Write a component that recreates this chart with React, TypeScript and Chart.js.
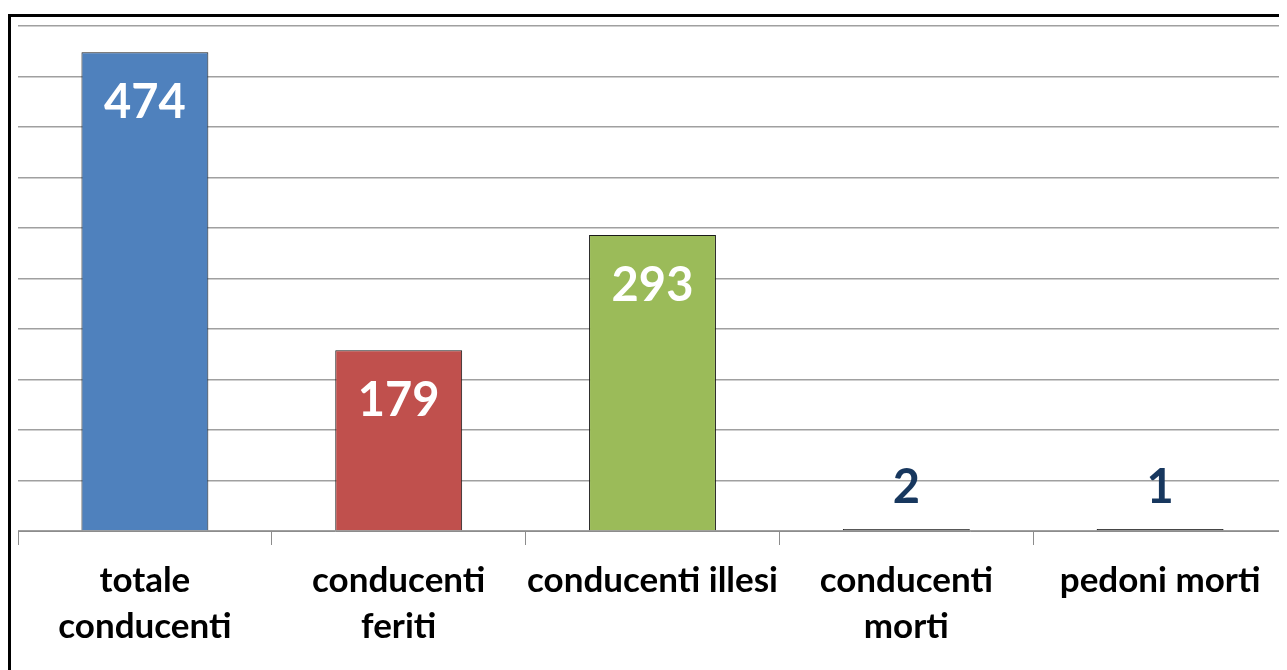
import React, { useEffect, useRef } from "react";
import { Chart, registerables } from "chart.js";

Chart.register(...registerables);

const categories: (string | string[])[] = [
  ["totale", "conducenti"],
  ["conducenti", "feriti"],
  "conducenti illesi",
  ["conducenti", "morti"],
  "pedoni morti",
];
const values: number[] = [474, 179, 293, 2, 1];
const barColors: string[] = ["#4F81BD", "#C0504D", "#9BBB59", "#262626", "#262626"];
const yMin = 0;
const yMax = 500;
const yStep = 50;

const FONT = "Lato, 'Open Sans', sans-serif";

const framePlugin = {
  id: "frame",
  beforeDraw(chart: any) {
    const ctx = chart.ctx;
    ctx.save();
    ctx.strokeStyle = "#000";
    ctx.lineWidth = 3;
    ctx.beginPath();
    ctx.moveTo(1.5, chart.height + 5);
    ctx.lineTo(1.5, 7.5);
    ctx.lineTo(chart.width + 5, 7.5);
    ctx.stroke();
    ctx.restore();
  },
};

const labelPlugin = {
  id: "valueLabels",
  afterDatasetsDraw(chart: any) {
    const ctx = chart.ctx;
    const meta = chart.getDatasetMeta(0);
    ctx.save();
    ctx.font = `bold 47px ${FONT}`;
    ctx.textAlign = "center";
    ctx.textBaseline = "middle";
    meta.data.forEach((bar: any, i: number) => {
      const v = values[i];
      if (v > 50) {
        ctx.fillStyle = "#FFFFFF";
        ctx.fillText(String(v), bar.x, bar.y + 51);
      } else {
        ctx.fillStyle = "#17375E";
        ctx.fillText(String(v), bar.x, bar.y - 41);
      }
    });
    ctx.restore();
  },
};

export default function App() {
  const ref = useRef<HTMLCanvasElement | null>(null);
  useEffect(() => {
    document.body.style.overflow = "hidden";
    const chart = new Chart(ref.current as HTMLCanvasElement, {
      type: "bar",
      data: {
        labels: categories,
        datasets: [
          {
            data: values,
            backgroundColor: barColors,
            borderColor: "#1a1a1a",
            borderWidth: 1,
            minBarLength: 2,
            barPercentage: 0.5,
            categoryPercentage: 1,
          },
        ],
      },
      plugins: [framePlugin, labelPlugin],
      options: {
        animation: false,
        responsive: false,
        maintainAspectRatio: false,
        layout: { padding: { left: 10, right: 0, top: 18, bottom: 0 } },
        plugins: { legend: { display: false }, tooltip: { enabled: false } },
        scales: {
          x: {
            grid: {
              display: true,
              drawOnChartArea: false,
              drawTicks: true,
              tickLength: 14,
              color: "#8c8c8c",
              offset: true,
            },
            border: { display: true, color: "#8c8c8c", width: 1 },
            ticks: {
              color: "#000",
              font: { family: FONT, size: 35, weight: "bold", lineHeight: 1.3 },
              padding: 13,
              maxRotation: 0,
              autoSkip: false,
            },
            afterFit: (scale: any) => {
              scale.height = 139;
            },
          },
          y: {
            min: yMin,
            max: yMax,
            ticks: { display: false, stepSize: yStep },
            grid: { color: "#a0a0a0", lineWidth: 1.5, drawTicks: false },
            border: { display: false },
            afterFit: (scale: any) => {
              scale.width = 0;
            },
          },
        },
      },
    });
    return () => chart.destroy();
  }, []);
  return (
    <div style={{ width: 1279, height: 662 }}>
      <canvas ref={ref} width={1279} height={662} style={{ display: "block" }} />
    </div>
  );
}
